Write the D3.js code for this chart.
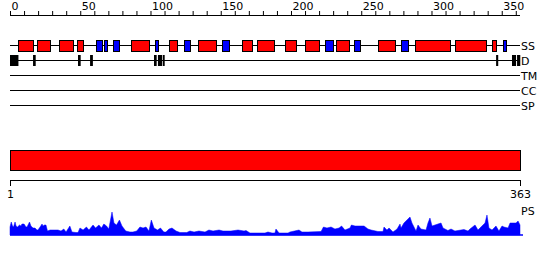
<!DOCTYPE html>
<html>
<head>
<meta charset="utf-8">
<script src="https://cdn.jsdelivr.net/npm/d3@7"></script>
<style>
body { margin: 0; background: #fff; }
text { font-family: "DejaVu Sans", sans-serif; font-size: 11px; fill: #000; }
</style>
</head>
<body>
<svg id="chart" width="550" height="260"></svg>
<script>
// sequence length
var seqLen = 363

// secondary structure: helices (red) and strands (blue), residue ranges
var helices = [[6,17],[19,28],[35,45],[48,52],[86,99],[113,119],[134,147],[165,172],[176,188],
               [196,204],[210,220],[232,241],[262,274],[288,313],[317,339],[343,346]]
var strands = [[61,65],[67,69],[73,77],[103,105],[124,128],[151,156],[224,230],[245,249],[278,283],[351,353]]

// disordered regions
var disorder = [[0,6],[16.4,18.3],[48.4,50.3],[57,59],[102.5,104.4],[105.3,108.2],[108.7,110.1],
                [346,347.5],[357.3,360.2],[360.9,363.2]]

// empty tracks
var trackNames = ['SS', 'D', 'TM', 'CC', 'SP']

// top axis
var tickStep = 10
var labelStep = 50

// domain bar
var domains = [[1, 363]]
var endLabels = ['1', '363']

// PS profile [residue, score]
var psProfile = [[0,8],[0.9,13],[1.8,9],[2.5,8],[3.6,13],[4.3,9],[5.3,8],[6.8,10],[7.8,9],[8.5,11],[10,11],
  [11.4,8],[12.1,8],[13.9,13],[14.9,9],[16.4,7],[17.8,7],[19.2,5],[19.9,5],[21.4,8],[22.8,11],[23.5,9],
  [24.6,10],[25.6,10],[26.7,4],[28.5,5],[32,5],[34.2,5],[36.3,4],[38.3,6],[39.9,3],[42.6,9],[44.1,3],
  [47,2.5],[48.4,2.5],[49.8,7],[52,5],[54.4,8],[56.2,5],[59.1,10],[60.9,7],[63.3,10],[65.1,7],[66.8,11],
  [68.7,9],[70.3,6],[72.6,23],[74,12],[75.8,10],[77.9,15],[79.7,9],[82.4,4],[85.4,3],[87.5,3],[90.2,4],
  [92.5,8],[94.7,7],[96.8,8],[98.9,4],[100.6,15],[102.5,7],[105,5],[107.1,7],[109.5,3],[111,3],[113.2,6],
  [115.3,7],[118.2,4],[121,2.5],[125.8,2.5],[128.1,4],[131,3],[134.5,4],[138.8,3],[141.6,5],[144.5,4],
  [148.8,5],[151.6,4],[157.3,4],[162.3,5],[166.6,4],[168,4.5],[170.8,2],[181.5,2],[183.6,3],[186.5,2],
  [188.6,2],[189.3,6],[191.5,2],[197.9,2],[199.3,3],[205.7,5],[207.8,3],[212.1,3],[221.4,3.5],[223.1,8],
  [225.6,7],[228.5,8],[231.3,6],[234.2,7],[236,9],[238.4,5],[242,7],[243,10],[245.6,9],[247.7,9],[249.8,9],
  [252,9],[254.8,6],[257,5],[261.9,3.5],[265.5,3.5],[266.2,8],[268.3,5],[269.8,7],[272.6,3],[275.5,6],
  [277.6,11],[278.3,7],[280.4,12],[284.7,18],[286.1,12],[289,4],[290.4,10],[292.5,6],[296.1,5],[297.5,12],
  [298.9,17],[300.4,9],[302.5,10],[304.6,11],[306.8,12],[308.2,7],[311.7,4.5],[313.9,6],[316.7,4],[321,5],
  [323.1,5.5],[326,4],[327.4,6],[331,10],[333.1,5],[334.5,7],[338.1,12],[339.5,20],[340.9,7],[343.1,5],
  [345.9,9],[348,4],[350.2,9],[351.6,8],[354.5,7],[355.9,12],[360.2,12],[361.6,14],[363,10],[363,0]]
var psMax = 25

var svg = d3.select('#chart')
var x = d3.scaleLinear().domain([0, seqLen]).range([10, 520])
var trackY = d3.scalePoint().domain(trackNames).range([45, 105])

// top ruler
var axTop = d3.axisTop(x)
    .tickValues(d3.range(0, seqLen + 1, tickStep))
    .tickSize(4)
    .tickFormat(function(d) { return d % labelStep == 0 ? d : '' })
var gTop = svg.append('g').attr('transform', 'translate(0,15)').call(axTop)
gTop.select('.domain').attr('d', 'M' + x(0) + ',0.5H' + x(seqLen)).attr('stroke', '#000')
gTop.selectAll('.tick line').attr('stroke', '#000')
gTop.selectAll('.tick text')
    .attr('text-anchor', 'start').attr('x', 1).attr('y', -5)
    .style('font-size', '11px').style('font-family', '"DejaVu Sans", sans-serif').attr('fill', '#000')

// tracks
svg.selectAll('line.track').data(trackNames).enter().append('line')
    .attr('class', 'track')
    .attr('x1', x(0)).attr('x2', x(seqLen))
    .attr('y1', function(d) { return trackY(d) + 0.5 })
    .attr('y2', function(d) { return trackY(d) + 0.5 })
    .attr('stroke', '#000')
svg.selectAll('text.track').data(trackNames).enter().append('text')
    .attr('class', 'track')
    .attr('x', x(seqLen) + 1)
    .attr('y', function(d) { return trackY(d) + 4.5 })
    .text(function(d) { return d })

function boxes(data, track, fill, h) {
    svg.append('g').selectAll('rect').data(data).enter().append('rect')
        .attr('x', function(d) { return Math.round(x(d[0])) + 0.5 })
        .attr('width', function(d) { return Math.max(2, Math.round(x(d[1]) - x(d[0]))) })
        .attr('y', Math.round(trackY(track) - h / 2) + 0.5)
        .attr('height', h)
        .attr('fill', fill).attr('stroke', '#000')
}
boxes(helices, 'SS', '#ff0000', 11)
boxes(strands, 'SS', '#0000ff', 11)

// disorder bars: solid fill, no outline so close bars stay apart
svg.append('g').selectAll('rect').data(disorder).enter().append('rect')
    .attr('x', function(d) { return x(d[0]) })
    .attr('width', function(d) { return x(d[1]) - x(d[0]) })
    .attr('y', trackY('D') - 5)
    .attr('height', 11)
    .attr('fill', '#000')

// domain bar
svg.append('g').selectAll('rect').data(domains).enter().append('rect')
    .attr('x', function(d) { return x(d[0] - 1) + 0.5 })
    .attr('width', function(d) { return x(d[1]) - x(d[0] - 1) })
    .attr('y', 150.5).attr('height', 20)
    .attr('fill', '#ff0000').attr('stroke', '#000')

// bottom ruler
var gBot = svg.append('g')
gBot.append('line').attr('x1', x(0)).attr('x2', x(seqLen)).attr('y1', 180.5).attr('y2', 180.5).attr('stroke', '#000')
gBot.selectAll('line.end').data([0, seqLen]).enter().append('line')
    .attr('x1', function(d) { return x(d) + 0.5 }).attr('x2', function(d) { return x(d) + 0.5 })
    .attr('y1', 180).attr('y2', 186).attr('stroke', '#000')
gBot.selectAll('text').data([0, seqLen]).enter().append('text')
    .attr('x', function(d) { return x(d) + 0.5 })
    .attr('y', 198)
    .attr('text-anchor', 'middle')
    .text(function(d, i) { return endLabels[i] })

// PS profile
var yPs = d3.scaleLinear().domain([0, psMax]).range([235, 210])
var area = d3.area()
    .x(function(d) { return x(d[0]) })
    .y0(yPs(0))
    .y1(function(d) { return yPs(d[1]) })
svg.append('path').datum(psProfile).attr('d', area).attr('fill', '#0000ff').attr('stroke', '#0000ff').attr('stroke-width', 0.5)
svg.append('line').attr('x1', x(0)).attr('x2', x(seqLen) + 3)
    .attr('y1', yPs(0)).attr('y2', yPs(0)).attr('stroke', '#0000ff').attr('stroke-width', 1.5)
svg.append('text').attr('x', x(seqLen) + 1).attr('y', 215).text('PS')
</script>
</body>
</html>
